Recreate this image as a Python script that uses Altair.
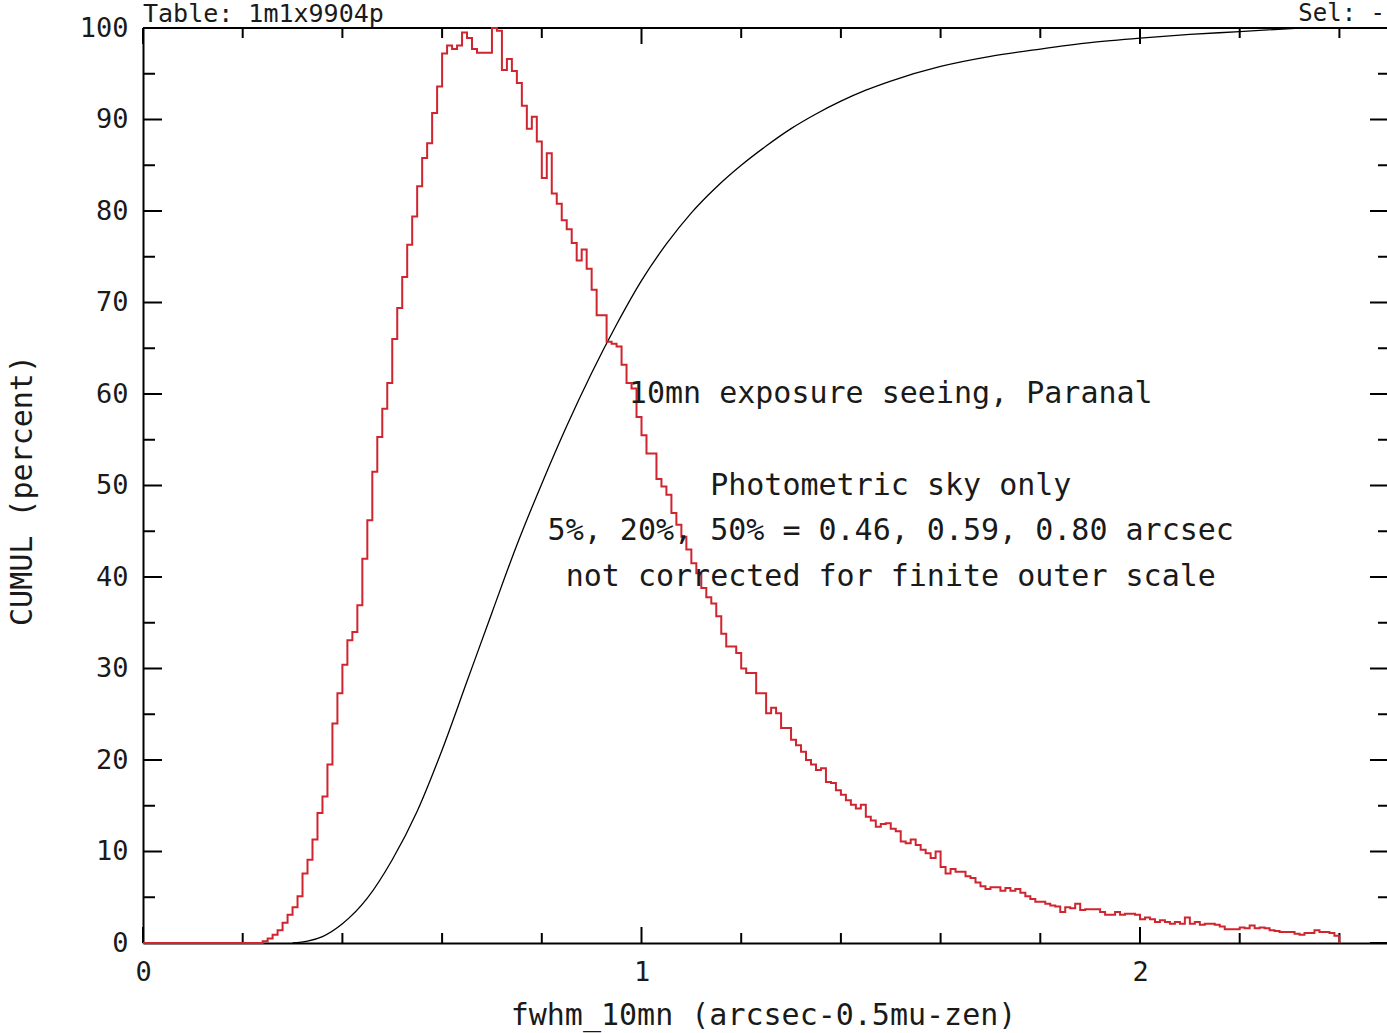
import altair as alt
import pandas as pd

# ---------------- data ----------------
# histogram of fwhm_10mn, bins 0.01 wide starting at 0.24 (normalised to peak = 100)
BIN_START = 0.24
BIN_WIDTH = 0.01
hist_values = [
    0.2, 0.5, 0.9, 1.4, 2.2, 3.1, 3.9, 5.1, 7.6, 9.1,            # 0.24-0.33
    11.3, 14.2, 16.0, 19.5, 24.0, 27.3, 30.4, 33.1, 34.0, 36.9,  # 0.34-0.43
    42.0, 46.2, 51.5, 55.3, 58.4, 61.2, 66.0, 69.4, 72.8, 76.3,  # 0.44-0.53
    79.4, 82.7, 85.8, 87.4, 90.7, 93.6, 97.2, 98.1, 97.7, 98.1,  # 0.54-0.63
    99.5, 98.9, 97.7, 97.3, 97.3, 97.3, 100.0, 99.7, 95.4, 96.6, # 0.64-0.73
    95.3, 94.0, 91.5, 89.0, 90.3, 87.6, 83.6, 86.3, 81.9, 80.8,  # 0.74-0.83
    79.0, 78.0, 76.5, 74.6, 75.8, 73.7, 71.4, 68.6, 68.6, 65.7,  # 0.84-0.93
    65.5, 65.2, 63.2, 61.2, 60.6, 57.5, 55.5, 53.5, 53.5, 50.7,  # 0.94-1.03
    49.9, 49.0, 47.0, 45.7, 44.4, 43.0, 41.5, 40.4, 38.8, 37.8,  # 1.04-1.13
    37.1, 35.7, 33.8, 32.4, 32.4, 31.7, 30.0, 29.5, 29.5, 27.3,  # 1.14-1.23
    27.3, 25.1, 25.7, 25.1, 23.5, 23.5, 22.2, 21.6, 20.9, 20.0,  # 1.24-1.33
    19.5, 18.9, 19.1, 17.6, 17.5, 16.7, 16.2, 15.6, 15.1, 14.7,  # 1.34-1.43
    15.1, 13.8, 13.4, 12.7, 13.0, 13.1, 12.5, 12.2, 11.1, 10.9,  # 1.44-1.53
    11.3, 10.7, 10.2, 9.8, 9.3, 10.0, 8.3, 7.6, 8.1, 7.8,        # 1.54-1.63
    7.8, 7.3, 7.1, 6.6, 6.2, 5.9, 6.1, 6.1, 5.7, 6.0,            # 1.64-1.73
    5.7, 5.9, 5.5, 5.1, 4.8, 4.5, 4.5, 4.3, 4.1, 4.0,            # 1.74-1.83
    3.4, 3.9, 3.8, 4.3, 3.6, 3.7, 3.7, 3.7, 3.4, 3.1,            # 1.84-1.93
    3.1, 3.4, 3.1, 3.2, 3.2, 3.1, 2.6, 2.8, 2.6, 2.3,            # 1.94-2.03
    2.5, 2.3, 2.1, 2.3, 2.1, 2.8, 2.1, 2.3, 2.0, 2.1,            # 2.04-2.13
    2.1, 2.0, 1.8, 1.5, 1.5, 1.5, 1.7, 1.6, 1.9, 1.6,            # 2.14-2.23
    1.7, 1.6, 1.4, 1.3, 1.2, 1.2, 1.2, 1.0, 0.9, 1.1,            # 2.24-2.33
    1.1, 1.4, 1.2, 1.2, 1.1, 0.8,                                # 2.34-2.39
]

# cumulative distribution (black curve)
cum_x = [0.30, 0.33, 0.36, 0.40, 0.45, 0.50, 0.55, 0.60, 0.65, 0.70, 0.75,
         0.80, 0.85, 0.90, 0.95, 1.00, 1.05, 1.10, 1.15, 1.20, 1.25, 1.30,
         1.35, 1.40, 1.45, 1.50, 1.60, 1.70, 1.80, 1.90, 2.00, 2.10, 2.20,
         2.32]
cum_y = [0.0, 0.2, 0.7, 2.1, 4.9, 9.1, 14.4, 21.1, 28.6, 36.1, 43.5,
         50.2, 56.5, 62.3, 67.6, 72.4, 76.4, 79.8, 82.6, 85.0, 87.1, 89.0,
         90.6, 92.0, 93.2, 94.2, 95.8, 96.9, 97.7, 98.4, 98.9, 99.3, 99.6,
         100.0]

# annotation texts
note_lines = ["10mn exposure seeing, Paranal",
              "Photometric sky only",
              "5%, 20%, 50% = 0.46, 0.59, 0.80 arcsec",
              "not corrected for finite outer scale"]
note_x = [1.5, 1.5, 1.5, 1.5]
note_y = [60, 50, 45, 40]

# axis ticks / labels
x_label_values = [0, 1, 2]
x_minor_ticks = [0.2, 0.4, 0.6, 0.8, 1.2, 1.4, 1.6, 1.8, 2.2, 2.4]
y_label_values = [0, 10, 20, 30, 40, 50, 60, 70, 80, 90, 100]
y_minor_ticks = [5, 15, 25, 35, 45, 55, 65, 75, 85, 95]

# ---------------- tables ----------------
edges = [round(BIN_START + BIN_WIDTH * i, 2) for i in range(len(hist_values))]
hist_df = pd.DataFrame({
    "x": [0.0] + edges + [round(edges[-1] + BIN_WIDTH, 2)],
    "y": [0.0] + hist_values + [0.0],
})
cum_df = pd.DataFrame({"x": cum_x, "y": cum_y})
note_df = pd.DataFrame({"x": note_x, "y": note_y, "t": note_lines})

# ---------------- layout ----------------
W, H = 1244, 915
PX_PER_UNIT = 498.5
XMAX = W / PX_PER_UNIT
FONT = "DejaVu Sans Mono"
RED = "#d0242f"
INK = "#1a1a1a"

xscale = alt.Scale(domain=[0, XMAX], nice=False, zero=False)
yscale = alt.Scale(domain=[0, 100], nice=False, zero=False)

x_axis = alt.Axis(values=x_label_values, format="d", ticks=False, grid=False,
                  domainColor="black", domainWidth=2, labelFlush=False,
                  labelFont=FONT, labelFontSize=27, labelColor=INK,
                  labelPadding=16,
                  title="fwhm_10mn (arcsec-0.5mu-zen)", titleFont=FONT,
                  titleFontSize=30, titleFontWeight="normal", titleColor=INK,
                  titleX=620, titleY=72, titleAlign="center",
                  titleBaseline="middle")
y_axis = alt.Axis(values=y_label_values, format="d", ticks=False, grid=False,
                  domainColor="black", domainWidth=2, labelFlush=False,
                  labelFont=FONT, labelFontSize=27, labelColor=INK,
                  labelPadding=15,
                  title="CUMUL (percent)", titleFont=FONT, titleFontSize=30,
                  titleFontWeight="normal", titleColor=INK,
                  titleX=-121, titleY=462, titleAngle=270, titleAlign="center",
                  titleBaseline="middle")

X = lambda f: alt.X(f, scale=xscale, axis=x_axis)
Y = lambda f: alt.Y(f, scale=yscale, axis=y_axis)

hist = alt.Chart(hist_df).mark_line(
    interpolate="step-after", color=RED, strokeWidth=2
).encode(x=X("x:Q"), y=Y("y:Q"))

cum = alt.Chart(cum_df).mark_line(
    interpolate="monotone", color="black", strokeWidth=1.3
).encode(x=X("x:Q"), y=Y("y:Q"))

notes = alt.Chart(note_df).mark_text(
    font=FONT, fontSize=30, align="center", baseline="middle", color=INK
).encode(x=X("x:Q"), y=Y("y:Q"), text="t:N")

ymaj = pd.DataFrame({"v": y_label_values})
ymin = pd.DataFrame({"v": y_minor_ticks})
xmaj = pd.DataFrame({"v": x_label_values})
xmin = pd.DataFrame({"v": x_minor_ticks})

rule = dict(color="black", strokeWidth=2)
ticks = [
    alt.Chart(ymaj).mark_rule(**rule).encode(y=Y("v:Q"), x=alt.value(0), x2=alt.value(19)),
    alt.Chart(ymin).mark_rule(**rule).encode(y=Y("v:Q"), x=alt.value(0), x2=alt.value(12)),
    alt.Chart(ymaj).mark_rule(**rule).encode(y=Y("v:Q"), x=alt.value(W - 17), x2=alt.value(W)),
    alt.Chart(ymin).mark_rule(**rule).encode(y=Y("v:Q"), x=alt.value(W - 9), x2=alt.value(W)),
    alt.Chart(xmaj).mark_rule(**rule).encode(x=X("v:Q"), y=alt.value(H), y2=alt.value(H - 16)),
    alt.Chart(xmin).mark_rule(**rule).encode(x=X("v:Q"), y=alt.value(H), y2=alt.value(H - 10)),
    alt.Chart(xmaj).mark_rule(**rule).encode(x=X("v:Q"), y=alt.value(0), y2=alt.value(16)),
    alt.Chart(xmin).mark_rule(**rule).encode(x=X("v:Q"), y=alt.value(0), y2=alt.value(10)),
]

top_frame = alt.Chart(pd.DataFrame({"a": [0]})).mark_rule(**rule).encode(
    x=alt.value(0), x2=alt.value(W), y=alt.value(0))

header_left = alt.Chart(pd.DataFrame({"t": ["Table: 1m1x9904p"]})).mark_text(
    font=FONT, fontSize=25, align="left", baseline="middle", color=INK
).encode(x=alt.value(0), y=alt.value(-14), text="t:N")

header_right = alt.Chart(pd.DataFrame({"t": ["Sel: -"]})).mark_text(
    font=FONT, fontSize=24, align="right", baseline="middle", color=INK
).encode(x=alt.value(W - 2), y=alt.value(-14), text="t:N")

chart = alt.layer(
    *ticks, top_frame, cum, hist, notes, header_left, header_right
).properties(
    width=W, height=H,
    padding={"left": 143, "top": 28, "right": 0, "bottom": 90},
    autosize=alt.AutoSizeParams(type="none"),
    background="white",
).configure_view(stroke=None)

chart.save("out.html", embed_options={"renderer": "svg", "actions": False})
